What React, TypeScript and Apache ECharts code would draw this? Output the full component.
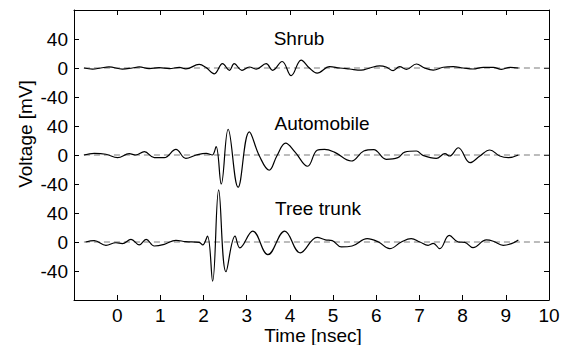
import React, { useEffect, useRef } from "react";
import * as echarts from "echarts";

// Time axis [nsec]
const X_MIN = -1;
const X_MAX = 10;
const X_TITLE = "Time [nsec]";
// stacked y axis: each trace shifted by an offset
const Y_MIN = -200;
const Y_MAX = 200;
const Y_TITLE = "Voltage [mV]";
const Y_TICK_LABELS = ["", "-40", "0", "40", "-40", "0", "40", "-40", "0", "40", ""];

const traceNames = ["Shrub", "Automobile", "Tree trunk"];
const traceOffsets = [120, 0, -120];

const shrubT = [-0.77, -0.57, -0.38, -0.19, 0.12, 0.35, 0.51, 0.74, 0.97, 1.21, 1.44, 1.59, 1.9, 2.05, 2.25, 2.44, 2.6, 2.71, 2.89, 3.06, 3.22, 3.45, 3.6, 3.82, 4.03, 4.26, 4.45, 4.63, 4.92, 5.15, 5.38, 5.65, 5.85, 6.08, 6.23, 6.39, 6.54, 6.7, 6.93, 7.12, 7.32, 7.55, 7.78, 8.01, 8.24, 8.48, 8.71, 8.9, 9.1, 9.29];
const shrubV = [0, -1.5, 0, 1.5, -1.5, 0, 1.5, -0.8, 0.5, -0.8, 0.8, -1.2, 5, 1, -8, 6, -3.2, 6, -3.2, 1.4, -1.5, 6, -3.2, 9, -10.5, 11, 0, -7, 1.8, 0, -1.4, -3, 0, 3, 1.4, -3.7, 1.8, -1.8, 5.5, 0, -2.8, 1, 1.8, 0, -1.4, 1, 0.8, -1.8, 1, 0];

const autoT = [-0.77, -0.53, -0.26, 0.01, 0.28, 0.43, 0.63, 0.86, 1.09, 1.36, 1.59, 1.83, 2.06, 2.2, 2.29, 2.41, 2.57, 2.8, 3.06, 3.29, 3.52, 3.7, 3.9, 4.12, 4.41, 4.63, 4.8, 5.03, 5.42, 5.71, 5.94, 6.23, 6.5, 6.66, 6.93, 7.08, 7.39, 7.59, 7.7, 7.9, 8.17, 8.4, 8.63, 8.86, 9.06, 9.29];
const autoV = [0, 2.3, 1, -3.7, 1.8, 0, 4.6, -3.7, -3.7, 7.8, -4.6, 0, 2.3, 0, 11.5, -40, 35.5, -44.5, 32, -1, -21, -1, 16.5, 4, -15.5, 6.5, 7.8, 4, -8.3, 5.5, 7.5, -6, -3.7, 4, 5.5, -0.5, -4.6, 1.8, -1.4, 10, -10.6, -1.4, 6.9, -1.4, -3.7, 0];

const treeT = [-0.73, -0.53, -0.26, -0.03, 0.12, 0.32, 0.51, 0.67, 0.86, 1.09, 1.36, 1.59, 1.9, 1.98, 2.09, 2.21, 2.35, 2.52, 2.73, 2.84, 3.14, 3.49, 3.88, 4.24, 4.63, 4.82, 4.98, 5.19, 5.44, 5.79, 6.05, 6.31, 6.58, 6.81, 7.01, 7.2, 7.32, 7.47, 7.69, 7.9, 8.05, 8.24, 8.55, 8.71, 8.94, 9.13, 9.29];
const treeV = [0, 2, -4.6, -1, -2.3, 3.7, -4, 3.7, -5.5, -3.2, 2.3, 0.5, -0.5, -4, 8, -54, 72, -41, 8, -8, 15, -17.5, 15, -15, 6.5, 3, 2, -6.7, -5.5, 4.6, 0, -9.2, 0, 4.6, 0, -4.6, -1.8, -9.2, 9.2, 0, -0.5, -7.8, 2.8, 1, -4.6, -2.3, 2.8];

const baselineStart = -0.77;

const FONT = "'Liberation Sans', Arial, Helvetica, sans-serif";

export default function App() {
  const ref = useRef<HTMLDivElement>(null);
  useEffect(() => {
    document.body.style.margin = "0";
    if (!ref.current) return;
    const chart = echarts.init(ref.current, null, { renderer: "svg" });
    const times = [shrubT, autoT, treeT];
    const values = [shrubV, autoV, treeV];

    const series: any[] = [];
    traceOffsets.forEach((off, i) => {
      series.push({
        type: "line",
        name: traceNames[i] + " baseline",
        data: [[baselineStart, off], [X_MAX, off]],
        symbol: "none",
        lineStyle: { color: "#7a7a7a", width: 1.1, type: [6, 4] },
        z: 1,
      });
    });
    traceOffsets.forEach((off, i) => {
      series.push({
        type: "line",
        name: traceNames[i],
        data: times[i].map((t, k) => [t, values[i][k] + off]),
        symbol: "none",
        smooth: 0.4,
        lineStyle: { color: "#000", width: 1.2 },
        z: 2,
      });
    });

    const tickStyle = { show: true, inside: true, length: 5, lineStyle: { color: "#000" } };
    const lineStyle = { show: true, lineStyle: { color: "#000", width: 1 } };
    const textStyle = { fill: "#000", fontSize: 19, fontFamily: FONT, align: "center", verticalAlign: "middle" };

    chart.setOption({
      animation: false,
      grid: { left: 74, right: 19, top: 10, bottom: 45, containLabel: false, outerBoundsMode: "none" },
      xAxis: [
        {
          type: "value",
          min: X_MIN,
          max: X_MAX,
          interval: 1,
          position: "bottom",
          axisLine: { ...lineStyle, onZero: false },
          axisTick: tickStyle,
          splitLine: { show: false },
          axisLabel: { showMinLabel: false, color: "#000", fontSize: 19, lineHeight: 16, fontFamily: FONT, margin: 7 },
        },
        {
          type: "value",
          min: X_MIN,
          max: X_MAX,
          interval: 1,
          position: "top",
          axisLine: { ...lineStyle, onZero: false },
          axisTick: tickStyle,
          splitLine: { show: false },
          axisLabel: { show: false },
        },
      ],
      yAxis: [
        {
          type: "value",
          min: Y_MIN,
          max: Y_MAX,
          interval: 40,
          position: "left",
          axisLine: { ...lineStyle, onZero: false },
          axisTick: tickStyle,
          splitLine: { show: false },
          axisLabel: {
            color: "#000",
            fontSize: 19,
            lineHeight: 19,
            fontFamily: FONT,
            margin: 6,
            formatter: (v: number) => Y_TICK_LABELS[Math.round((v - Y_MIN) / 40)] ?? "",
          },
        },
        {
          type: "value",
          min: Y_MIN,
          max: Y_MAX,
          interval: 40,
          position: "right",
          axisLine: { ...lineStyle, onZero: false },
          axisTick: tickStyle,
          splitLine: { show: false },
          axisLabel: { show: false },
        },
      ],
      graphic: [
        { type: "text", x: 313, y: 335, style: { ...textStyle, lineHeight: 16, text: X_TITLE } },
        { type: "text", x: 25, y: 134, rotation: Math.PI / 2, style: { ...textStyle, text: Y_TITLE } },
        { type: "text", x: 299, y: 38, style: { ...textStyle, text: traceNames[0] } },
        { type: "text", x: 322, y: 123, style: { ...textStyle, text: traceNames[1] } },
        { type: "text", x: 318, y: 208, style: { ...textStyle, text: traceNames[2] } },
      ],
      series,
    });
    return () => chart.dispose();
  }, []);
  return <div ref={ref} style={{ width: 568, height: 345 }} />;
}
